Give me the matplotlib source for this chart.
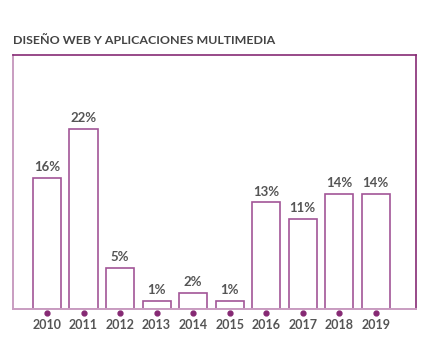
import matplotlib
matplotlib.use("Agg")
import matplotlib.pyplot as plt
import numpy as np

years = ["2010", "2011", "2012", "2013", "2014", "2015", "2016", "2017", "2018", "2019"]
values = [16, 22, 5, 1, 2, 1, 13, 11, 14, 14]

DARK = "#862A74"; LIGHT = "#C99DC1"; BAR_EDGE = "#A25597"; GREY = "#555555"
plt.rcParams.update({"font.family": ["Lato", "DejaVu Sans"]})

fig = plt.figure(figsize=(4.26, 3.51), dpi=100)
ax = fig.add_axes([13/426, 42/351, 403/426, 254/351])
x = np.arange(len(years))
ax.bar(x, values, width=0.77, facecolor="white", edgecolor=BAR_EDGE, linewidth=1.2, zorder=2)
for xi, v in zip(x, values):
    ax.annotate(f"{v}%", (xi, v), xytext=(0, 3.5), textcoords="offset points",
                ha="center", va="bottom", fontsize=9.5, fontweight="bold", color=GREY)
ax.plot(x, [0]*len(x), "o", color=DARK, ms=3.5, clip_on=False, zorder=3,
        transform=ax.transData + matplotlib.transforms.ScaledTranslation(0, -4/100, fig.dpi_scale_trans))
ax.set_xlim(-0.93, 10.1)
ax.set_ylim(0, 31)
ax.set_yticks([])
ax.set_xticks(x)
ax.set_xticklabels(years, fontsize=9, fontweight="bold", color=GREY)
ax.tick_params(length=0, pad=7.5)
for s in ["top", "right"]:
    ax.spines[s].set_color(DARK); ax.spines[s].set_linewidth(1.2)
for s in ["left", "bottom"]:
    ax.spines[s].set_color(LIGHT); ax.spines[s].set_linewidth(1.4)

fig.text(13/426, 1 - 40/351, "DISEÑO WEB Y APLICACIONES MULTIMEDIA", fontsize=8.9,
         fontweight="bold", color="#444444", va="center", ha="left")
fig.savefig("out.png", dpi=100, facecolor="white")
